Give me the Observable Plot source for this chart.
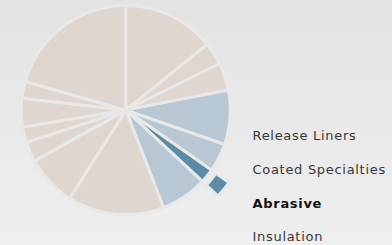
<!DOCTYPE html>
<html>
<head>
<meta charset="utf-8">
<script src="https://cdn.jsdelivr.net/npm/d3@7"></script>
<script src="https://cdn.jsdelivr.net/npm/@observablehq/plot@0.6"></script>
<style>
  html, body { margin: 0; padding: 0; width: 392px; height: 245px; overflow: hidden;
    background: linear-gradient(180deg, #e3e3e3 0%, #e9e9e9 50%, #efefef 100%); }
  svg { display: block; background: transparent; }
  svg text { letter-spacing: 0.7px; }
</style>
</head>
<body>
<div id="chart"></div>
<script>
// ---- data (clockwise from 12 o'clock) ----
const categories = ["Other 1", "Other 2", "Other 3", "Release Liners", "Coated Specialties", "Abrasive", "Insulation",
  "Other 4", "Other 5", "Other 6", "Other 7", "Other 8", "Other 9", "Other 10"];
const values = [14.2, 3.5, 4.25, 8.4, 4.4, 2.2, 7.2, 14.9, 7.9, 3.1, 2.4, 4.4, 2.6, 20.6];
const groups = ["other", "other", "other", "segment", "segment", "highlight", "segment",
  "other", "other", "other", "other", "other", "other", "other"];
const legendLabels = ["Release Liners", "Coated Specialties", "Abrasive", "Insulation"];
const selected = "Abrasive";

// ---- layout / style ----
const W = 392, H = 245;
const cx = 125.3, cy = 109.6, Rpx = 104.5;
const ringInner = 1.053, ringOuter = 1.206;
const gap = "#e8e8e8";
const colors = {domain: ["other", "segment", "highlight"], range: ["#dfd6cf", "#b7c8d4", "#5b8ba6"]};
const legendX = 252, legendY0 = 135.5, legendStep = 33.7;
const font = "DejaVu Sans";

// ---- geometry from data ----
const arcs = d3.pie().sort(null).value((d) => d.value).startAngle(0).endAngle(2 * Math.PI)(
  categories.map((c, i) => ({category: c, value: values[i], group: groups[i]}))
);
function arcPts(a0, a1, r) {
  const n = Math.max(2, Math.ceil((Math.abs(a1 - a0) * 180) / Math.PI / 0.5));
  const pts = [];
  for (let k = 0; k <= n; ++k) {
    const a = a0 + ((a1 - a0) * k) / n;
    pts.push([r * Math.sin(a), r * Math.cos(a)]);
  }
  return pts;
}
const poly = [];
arcs.forEach((a, i) => {
  const pts = [[0, 0], ...arcPts(a.startAngle, a.endAngle, 1), [0, 0]];
  pts.forEach(([x, y]) => poly.push({id: "s" + i, x, y, group: a.data.group}));
  if (a.data.category === selected) {
    const ring = [...arcPts(a.startAngle, a.endAngle, ringOuter), ...arcPts(a.endAngle, a.startAngle, ringInner)];
    ring.push(ring[0]);
    ring.forEach(([x, y]) => poly.push({id: "ring", x, y, group: a.data.group}));
  }
});

const toX = (px) => (px - cx) / Rpx;
const toY = (py) => (cy - py) / Rpx;
const legend = legendLabels.map((t, i) => ({t, x: toX(legendX), y: toY(legendY0 + i * legendStep)}));

const chart = Plot.plot({
  width: W, height: H,
  margin: 0,
  style: {background: "transparent", overflow: "visible"},
  x: {domain: [toX(0), toX(W)], range: [0, W], axis: null},
  y: {domain: [toY(H), toY(0)], range: [H, 0], axis: null},
  color: colors,
  marks: [
    Plot.line(poly, {x: "x", y: "y", z: "id", fill: "group", stroke: gap, strokeWidth: 3, curve: "linear", strokeLinejoin: "miter", strokeMiterlimit: 4}),
    Plot.text(legend.filter((d) => d.t !== selected), {x: "x", y: "y", text: "t", textAnchor: "start",
      fill: "#383838", fontSize: 13, fontFamily: font, fontWeight: "normal"}),
    Plot.text(legend.filter((d) => d.t === selected), {x: "x", y: "y", text: "t", textAnchor: "start",
      fill: "#111111", fontSize: 13, fontFamily: font, fontWeight: "bold"})
  ]
});
document.getElementById("chart").appendChild(chart);
</script>
</body>
</html>
